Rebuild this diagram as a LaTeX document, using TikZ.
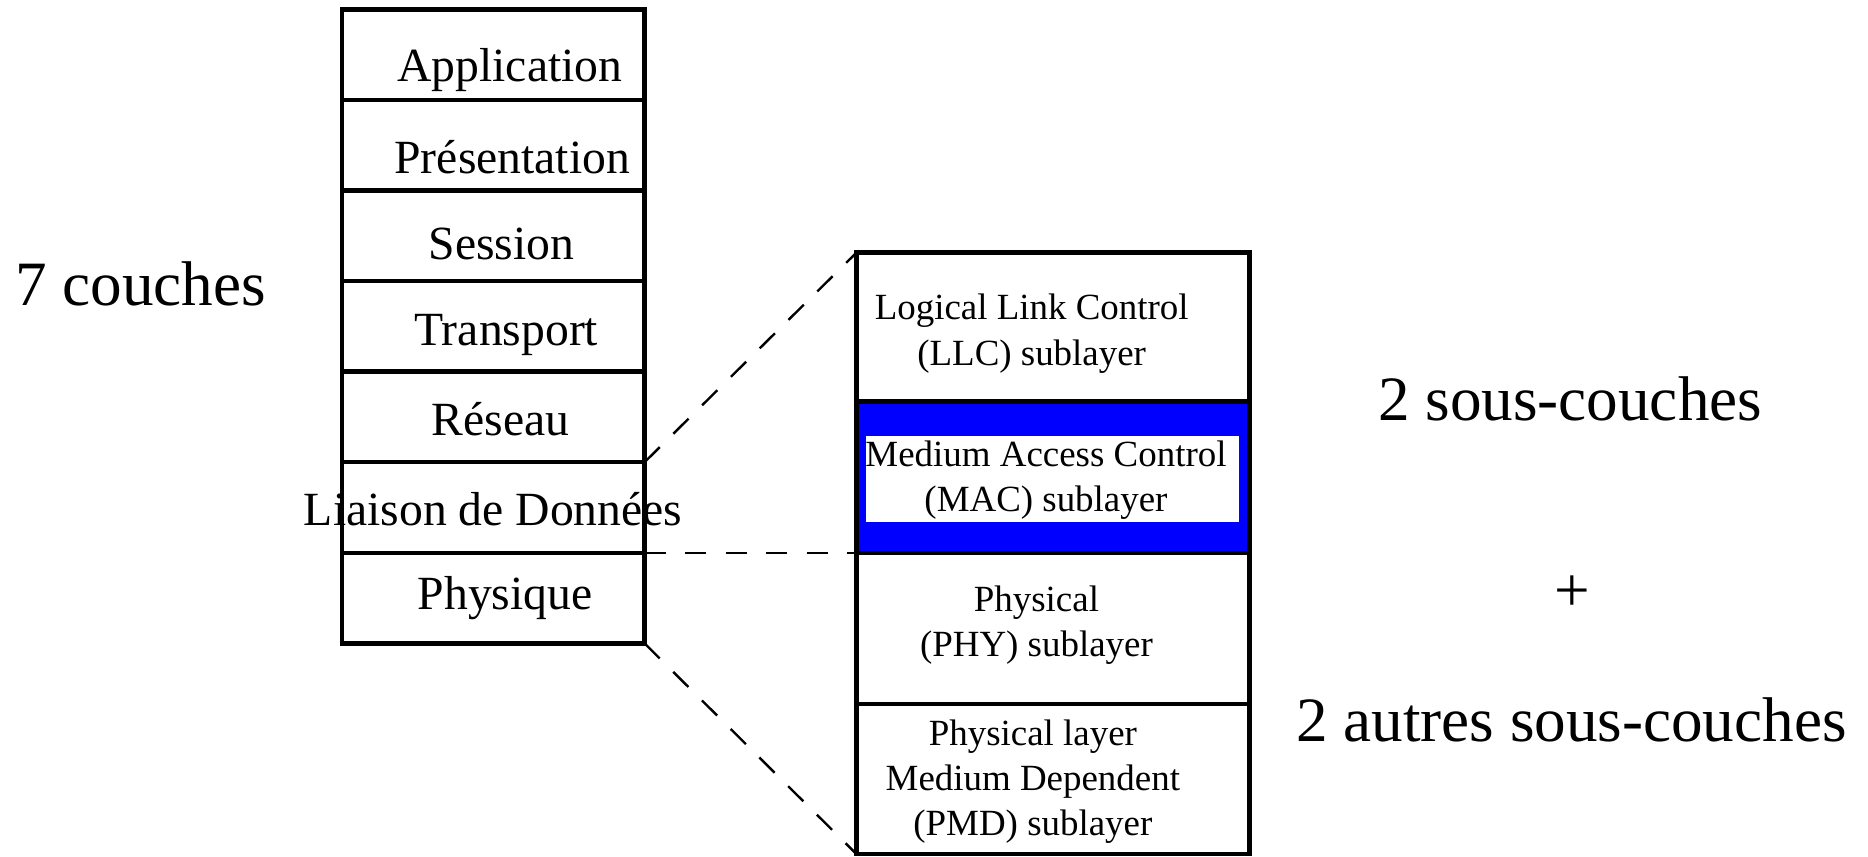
\documentclass[tikz,border=0pt]{standalone}
\usepackage{fontspec}
\setmainfont{Liberation Serif}
\definecolor{macblue}{RGB}{0,0,255}
\begin{document}
\begin{tikzpicture}[x=1pt,y=-1pt,
  layer/.style={draw,line width=3.8pt,minimum width=254pt,minimum height=76pt,inner sep=0pt,outer sep=0pt,anchor=north west},
  sub/.style={draw,line width=3.8pt,minimum width=330pt,inner sep=0pt,outer sep=0pt,anchor=north west},
  big/.style={font=\fontsize{40}{48}\selectfont,inner sep=0pt},
  huge/.style={font=\fontsize{53}{60}\selectfont,inner sep=0pt},
  small/.style={font=\fontsize{31}{38}\selectfont,align=center,inner sep=0pt},
  zoomline/.style={line width=2pt,dash pattern=on 18pt off 16pt}]
\useasboundingbox (0,0) rectangle (1568,719);
% left stack
\node[layer] (app) at (287,8) {};
\node[layer] (pres) at (287,84) {};
\node[layer] (sess) at (287,160) {};
\node[layer] (trans) at (287,236) {};
\node[layer] (res) at (287,312) {};
\node[layer] (liai) at (287,388) {};
\node[layer] (phys) at (287,464) {};
\node[big] at (428,59) {Application};
\node[big] at (430,132) {Présentation};
\node[big] at (421,205) {Session};
\node[big] at (425,281) {Transport};
\node[big] at (420,352) {Réseau};
\node[big] at (414,427) {Liaison de Données};
\node[big] at (424,502) {Physique};
% right stack
\node[sub,minimum height=125pt] (llc) at (719,212) {};
\node[sub,minimum height=127pt,fill=macblue] (mac) at (719,337) {};
\node[fill=white,minimum width=313pt,minimum height=72pt,inner sep=0pt,outer sep=0pt,anchor=north west] (macin) at (727,366) {};
\node[sub,minimum height=127pt] (phy) at (719,464) {};
\node[sub,minimum height=126pt] (pmd) at (719,591) {};
\draw[line width=3.8pt] (mac.north west) -- (mac.north east);
\node[small] at (866,280) {Logical Link Control\\(LLC) sublayer};
\node[small] at (878,403) {Medium Access Control\\(MAC) sublayer};
\node[small] at (870,525) {Physical\\(PHY) sublayer};
\node[small] at (867,656) {Physical layer\\Medium Dependent\\(PMD) sublayer};
% zoom lines
\draw[zoomline] (liai.north east) -- (llc.north west);
\draw[zoomline] (liai.south east) -- (phy.north west);
\draw[zoomline] (phys.south east) -- (pmd.south west);
% side labels
\node[huge] (seven) at (118,238) {7 couches};
\node[huge] (two) at (1318,335) {2 sous-couches};
\node[huge] (plus) at (1320,498) {+};
\node[huge] (other) at (1319,604) {2 autres sous-couches};
\end{tikzpicture}
\end{document}
